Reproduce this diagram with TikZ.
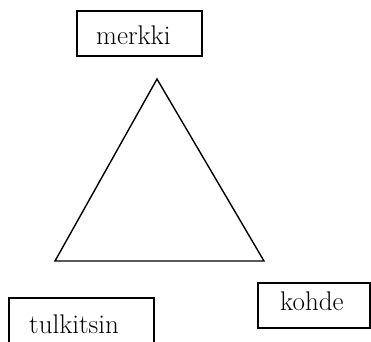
\documentclass[tikz,border=0pt]{standalone}
\begin{document}
\begin{tikzpicture}[x=1pt,y=-1pt,
  boxstyle/.style={draw=black,line width=1.1pt,rectangle,inner sep=0pt},
  lbl/.style={inner sep=0pt,anchor=base west,font=\fontsize{27}{32}\selectfont},
  tri/.style={line width=1.4pt,line join=miter}]
\useasboundingbox (0,0) rectangle (371,341);
\node[boxstyle,minimum width=125pt,minimum height=45pt] (mbox) at (139.5,33.5) {};
\node[boxstyle,minimum width=145pt,minimum height=46pt] (tbox) at (81.5,321) {};
\node[boxstyle,minimum width=112pt,minimum height=45pt] (kbox) at (314,305.5) {};
\node[lbl] (merkki) at (96,44) {merkki};
\node[lbl] (tulkitsin) at (29,333) {tulkitsin};
\node[lbl] (kohde) at (280,310) {kohde};
\coordinate (A) at (157,79);
\coordinate (B) at (55,261);
\coordinate (C) at (264,261);
\draw[tri] (A) -- (B) -- (C) -- cycle;
\end{tikzpicture}
\end{document}
